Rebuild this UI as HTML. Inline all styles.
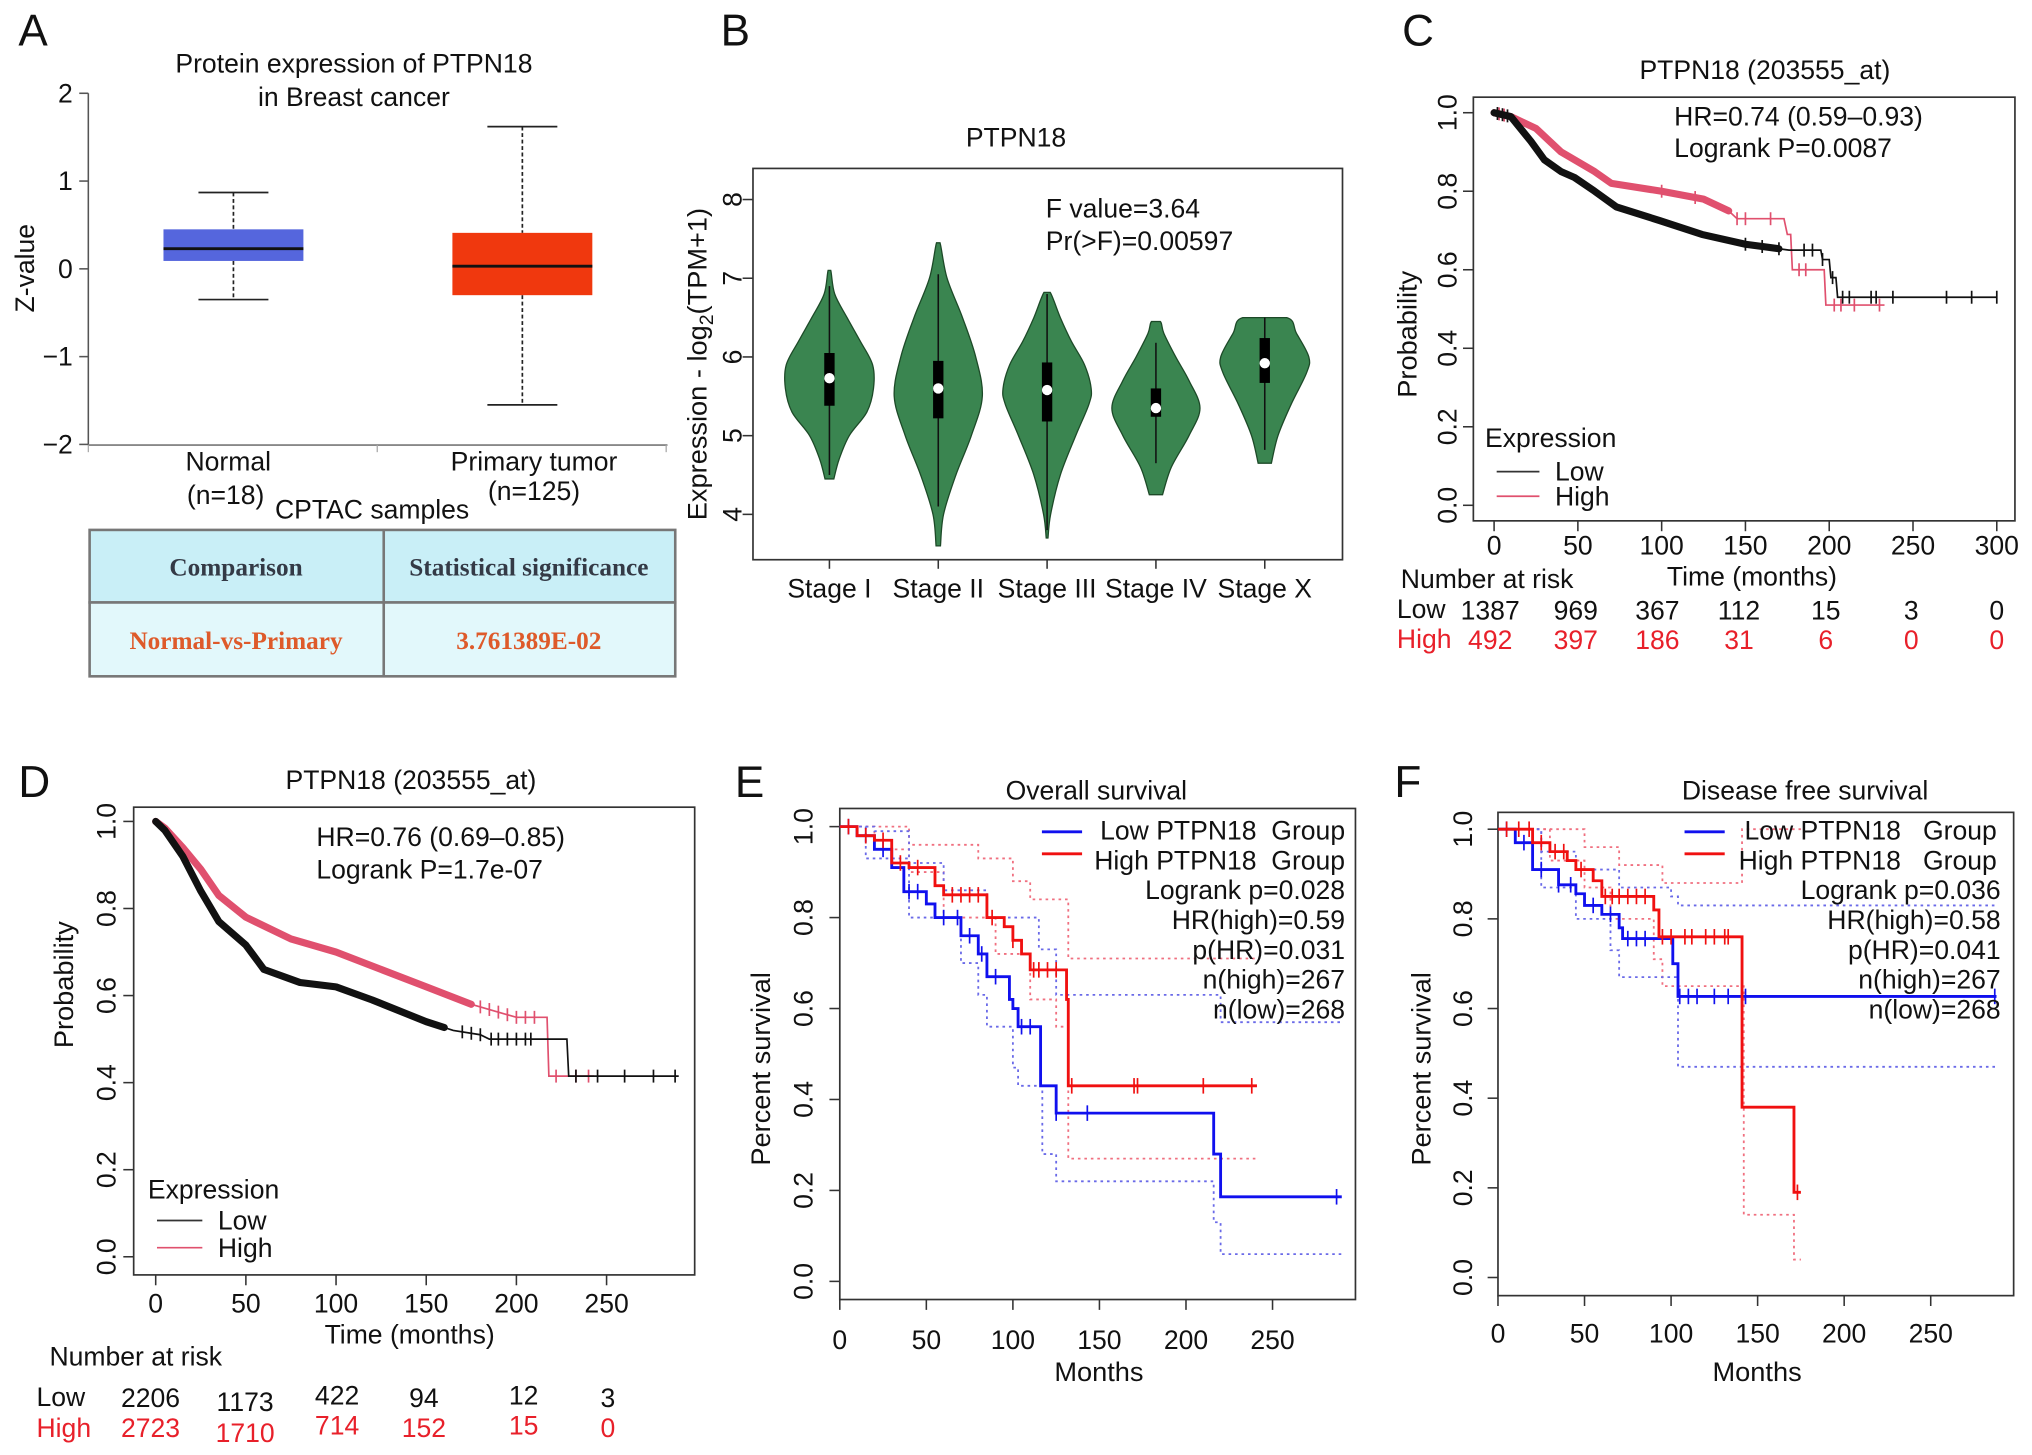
<!DOCTYPE html>
<html><head><meta charset="utf-8"><style>
html,body{margin:0;padding:0;background:#fff;}
svg{display:block;}
text{font-family:"Liberation Sans",Arial,sans-serif;fill:#111;}
.serif{font-family:"Liberation Serif","DejaVu Serif",serif;font-weight:bold;}
</style></head><body>
<svg id="fig" width="2032" height="1455" viewBox="0 0 1568 1123" xmlns="http://www.w3.org/2000/svg">
<g id="A">
<text x="14" y="35" font-size="34">A</text>
<text x="273" y="56" font-size="20.5" text-anchor="middle">Protein expression of PTPN18</text>
<text x="273" y="82" font-size="20.5" text-anchor="middle">in Breast cancer</text>
<text transform="translate(26,207) rotate(-90)" font-size="20.5" text-anchor="middle">Z-value</text>
<text x="176" y="363" font-size="20.5" text-anchor="middle">Normal</text>
<text x="174" y="389" font-size="20.5" text-anchor="middle">(n=18)</text>
<text x="412" y="363" font-size="20.5" text-anchor="middle">Primary tumor</text>
<text x="412" y="386" font-size="20.5" text-anchor="middle">(n=125)</text>
<text x="287" y="400" font-size="20.5" text-anchor="middle">CPTAC samples</text>
<g>
<rect x="69" y="409" width="452" height="56" fill="#c9eff7" stroke="#777" stroke-width="2"/>
<rect x="69" y="465" width="452" height="57" fill="#e2f8fb" stroke="#777" stroke-width="2"/>
<line x1="296" y1="409" x2="296" y2="522" stroke="#777" stroke-width="2"/>
<text class="serif" x="182" y="444" font-size="19.5" text-anchor="middle" style="fill:#343a46">Comparison</text>
<text class="serif" x="408" y="444" font-size="19.5" text-anchor="middle" style="fill:#343a46">Statistical significance</text>
<text class="serif" x="182" y="501" font-size="19.5" text-anchor="middle" style="fill:#de5a2a">Normal-vs-Primary</text>
<text class="serif" x="408" y="501" font-size="19.5" text-anchor="middle" style="fill:#de5a2a">3.761389E-02</text>
</g>
</g>
<g id="B">
<text x="556" y="35" font-size="34">B</text>
<text x="784" y="113" font-size="20.5" text-anchor="middle">PTPN18</text>
<text x="807" y="168" font-size="20.5">F value=3.64</text>
<text x="807" y="193" font-size="20.5">Pr(&gt;F)=0.00597</text>
<text transform="translate(545,281) rotate(-90)" font-size="21" text-anchor="middle">Expression - log<tspan font-size="15" dy="5">2</tspan><tspan dy="-5">(TPM+1)</tspan></text>
</g>
<g id="C"><text x="1082" y="35" font-size="34">C</text></g>
<g id="D"><text x="14" y="615" font-size="34">D</text></g>
<g id="E"><text x="567" y="615" font-size="34">E</text></g>
<g id="F"><text x="1076" y="615" font-size="34">F</text></g>
</svg>
<script>
const NS="http://www.w3.org/2000/svg";
const FS=20.5;
function mk(p,tag,attrs,txt){const e=document.createElementNS(NS,tag);for(const k in attrs)e.setAttribute(k,attrs[k]);if(txt!==undefined)e.textContent=txt;p.appendChild(e);return e;}

/* ---------- Panel A data ---------- */
const boxGroups=["Normal","Primary tumor"];
const boxMin=[-0.35,-1.55];
const boxQ1=[0.09,-0.3];
const boxMed=[0.23,0.03];
const boxQ3=[0.45,0.41];
const boxMax=[0.87,1.62];
const boxColors=["#5566dd","#f0380e"];
const aTicks=[2,1,0,-1,-2];

/* ---------- Panel B data ---------- */
const stages=["Stage I","Stage II","Stage III","Stage IV","Stage X"];
const vioVals=[[4.45,4.7,5.0,5.3,5.6,5.9,6.2,6.5,6.8,7.1],[3.6,4.0,4.5,5.0,5.5,6.0,6.5,7.0,7.45],[3.7,4.0,4.5,5.0,5.4,5.6,5.9,6.2,6.5,6.82],[4.25,4.6,5.0,5.35,5.7,6.0,6.3,6.45],[4.65,5.0,5.4,5.8,6.0,6.3,6.5]];
const vioDens=[[0.1,0.22,0.45,0.85,1.0,0.98,0.7,0.4,0.12,0.03],[0.05,0.12,0.4,0.75,1.0,0.85,0.55,0.2,0.04],[0.02,0.08,0.3,0.65,0.95,1.0,0.85,0.55,0.3,0.07],[0.15,0.35,0.75,1.0,0.75,0.45,0.18,0.1],[0.15,0.3,0.6,0.95,1.0,0.72,0.5]];
const vioMed=[5.73,5.6,5.58,5.35,5.92];
const vioQ1=[5.38,5.22,5.18,5.24,5.67];
const vioQ3=[6.05,5.95,5.93,5.6,6.24];
const vioLo=[4.5,4.1,3.8,4.65,4.82];
const vioHi=[6.9,7.05,6.8,6.18,6.5];
const bTicks=[4,5,6,7,8];

/* ---------- Panel C data (dense curves, linear knots) ---------- */
const cLowT=[0,10,22,30,40,48,60,73,99,124,150,176,195,196,200,201,204,205,300];
const cLowS=[1,0.99,0.927,0.88,0.85,0.835,0.80,0.76,0.725,0.69,0.665,0.65,0.65,0.626,0.626,0.58,0.58,0.53,0.53];
const cHighT=[0,10,25,40,60,70,100,125,140,145,173,175,177,178,197,198,233];
const cHighS=[1,0.99,0.96,0.90,0.85,0.82,0.80,0.78,0.75,0.73,0.73,0.69,0.69,0.60,0.60,0.51,0.51];
const cLowCens=[2,5,8,150,160,170,185,190,196,202,208,212,225,228,238,270,285,300];
const cHighCens=[3,6,100,120,145,150,165,182,186,203,207,215,230];
const cRiskLow=[1387,969,367,112,15,3,0];
const cRiskHigh=[492,397,186,31,6,0,0];

/* ---------- Panel D data ---------- */
const dLowT=[0,5,15,25,35,50,60,80,100,120,150,165,180,185,228,229,290];
const dLowS=[1,0.98,0.92,0.84,0.77,0.716,0.66,0.63,0.62,0.59,0.54,0.52,0.51,0.50,0.50,0.415,0.415];
const dHighT=[0,5,15,25,35,50,75,100,125,150,175,200,217,218,243];
const dHighS=[1,0.985,0.94,0.89,0.83,0.78,0.73,0.70,0.66,0.62,0.58,0.55,0.55,0.415,0.415];
const dLowCens=[170,175,180,186,190,195,200,205,208,233,245,260,276,288];
const dHighCens=[180,185,190,195,200,205,210,222,233,240];
const dRiskLow=[2206,1173,422,94,12,3];
const dRiskHigh=[2723,1710,714,152,15,0];

/* ---------- Panel E data ---------- */
const eLowT=[0,10,20,30,37,50,55,70,80,85,98,100,103,116,125,216,220];
const eLowS=[1,0.98,0.95,0.91,0.857,0.83,0.80,0.76,0.72,0.67,0.62,0.60,0.56,0.43,0.37,0.28,0.186];
const eHighT=[0,10,20,30,40,55,60,85,95,100,105,110,131,132];
const eHighS=[1,0.98,0.97,0.92,0.91,0.87,0.85,0.80,0.78,0.75,0.72,0.685,0.62,0.43];
const eLowCens=[5,15,25,40,45,60,68,75,82,90,105,110,125,143,287];
const eHighCens=[5,15,25,35,45,65,70,75,80,88,100,112,115,120,125,134,170,172,210,238];
const eHighUpT=[0,20,40,80,100,110,132],eHighUpS=[1,1,0.96,0.93,0.88,0.84,0.71];
const eHighLoT=[0,20,40,60,90,110,125,132],eHighLoS=[1,0.95,0.9,0.8,0.72,0.62,0.56,0.27];
const eLowUpT=[0,20,40,60,85,115,125,220],eLowUpS=[1,0.99,0.92,0.86,0.80,0.73,0.63,0.57];
const eLowLoT=[0,15,40,70,80,85,100,103,117,125,216,220],eLowLoS=[1,0.93,0.80,0.70,0.63,0.56,0.47,0.43,0.28,0.22,0.13,0.06];

/* ---------- Panel F data ---------- */
const fLowT=[0,10,20,35,45,50,60,70,72,101,104];
const fLowS=[1,0.97,0.91,0.876,0.856,0.83,0.81,0.78,0.756,0.70,0.627];
const fHighT=[0,20,30,40,45,55,60,90,93,141,171];
const fHighS=[1,0.97,0.95,0.93,0.91,0.885,0.85,0.82,0.76,0.38,0.19];
const fLowCens=[5,15,25,35,42,55,65,75,80,85,105,110,115,125,133,143,287];
const fHighCens=[5,12,18,25,33,38,48,62,66,70,75,80,85,95,100,108,112,120,125,131,133,173];
const fHighUpT=[0,40,50,70,95,141],fHighUpS=[1,1,0.96,0.92,0.88,1.0];
const fHighLoT=[0,30,50,65,90,95,142,171],fHighLoS=[1,0.93,0.87,0.80,0.71,0.65,0.14,0.04];
const fLowUpT=[0,25,45,70,100,104],fLowUpS=[1,0.95,0.91,0.87,0.85,0.83];
const fLowLoT=[0,25,45,65,70,104],fLowLoS=[1,0.87,0.80,0.73,0.67,0.47];

/* ================= Draw A ================= */
(function(){
const g=document.getElementById('A');
const y=v=>207.5-v*67.75;
const xc=[180,403];
mk(g,'line',{x1:68,y1:y(2),x2:68,y2:y(-2),stroke:'#555','stroke-width':1.2});
mk(g,'line',{x1:68,y1:343.5,x2:515,y2:343.5,stroke:'#777','stroke-width':1.2});
[68,291,514].forEach(x=>mk(g,'line',{x1:x,y1:343.5,x2:x,y2:349,stroke:'#aaa','stroke-width':1}));
aTicks.forEach(t=>{
  mk(g,'line',{x1:61,y1:y(t),x2:68,y2:y(t),stroke:'#555','stroke-width':1.2});
  const tx=mk(g,'text',{x:56,y:y(t)+7,'font-size':FS,'text-anchor':'end'},t<0?'\u2212'+(-t):String(t));
  
  
});
boxGroups.forEach((n,i)=>{
  const bg=mk(g,'g',{});
  
  
  const x=xc[i],hw=54,cw=27;
  mk(bg,'line',{x1:x,y1:y(boxMax[i]),x2:x,y2:y(boxQ3[i]),stroke:'#222','stroke-width':1.3,'stroke-dasharray':'3,2'});
  mk(bg,'line',{x1:x,y1:y(boxQ1[i]),x2:x,y2:y(boxMin[i]),stroke:'#222','stroke-width':1.3,'stroke-dasharray':'3,2'});
  mk(bg,'line',{x1:x-cw,y1:y(boxMax[i]),x2:x+cw,y2:y(boxMax[i]),stroke:'#222','stroke-width':1.3});
  mk(bg,'line',{x1:x-cw,y1:y(boxMin[i]),x2:x+cw,y2:y(boxMin[i]),stroke:'#222','stroke-width':1.3});
  mk(bg,'rect',{x:x-hw,y:y(boxQ3[i]),width:hw*2,height:y(boxQ1[i])-y(boxQ3[i]),fill:boxColors[i]});
  mk(bg,'line',{x1:x-hw,y1:y(boxMed[i]),x2:x+hw,y2:y(boxMed[i]),stroke:'#111','stroke-width':2.2});
});
})();

/* ================= Draw B ================= */
(function(){
const g=document.getElementById('B');
const L=581,R=1036,T=130,Bt=432;
const y=v=>154+(8-v)*60.75;
const xc=[640,724,808,892,976];
const maxHW=34;
mk(g,'rect',{x:L,y:T,width:R-L,height:Bt-T,fill:'none',stroke:'#333','stroke-width':1.3});
bTicks.forEach(t=>{
  mk(g,'line',{x1:L-8,y1:y(t),x2:L,y2:y(t),stroke:'#333','stroke-width':1.2});
  const tx=mk(g,'text',{transform:`translate(572,${y(t)}) rotate(-90)`,'font-size':FS,'text-anchor':'middle'},String(t));
  
  
});
stages.forEach((s,i)=>{
  const x=xc[i];
  mk(g,'line',{x1:x,y1:Bt,x2:x,y2:Bt+7,stroke:'#333','stroke-width':1.2});
  const tl=mk(g,'text',{x:x,y:461,'font-size':FS,'text-anchor':'middle'},s);
  
  
  const vg=mk(g,'g',{});
  
  
  const vs=vioVals[i],ds=vioDens[i];
  let right=vs.map((v,k)=>[x+ds[k]*maxHW,y(v)]);
  let left=vs.map((v,k)=>[x-ds[k]*maxHW,y(v)]).reverse();
  const P=right.concat(left);const n=P.length;
  let d=`M${P[0][0]},${P[0][1]}`;
  for(let k=0;k<n-1;k++){
    const p0=P[Math.max(k-1,0)],p1=P[k],p2=P[k+1],p3=P[Math.min(k+2,n-1)];
    const c1=[p1[0]+(p2[0]-p0[0])/6,p1[1]+(p2[1]-p0[1])/6];
    const c2=[p2[0]-(p3[0]-p1[0])/6,p2[1]-(p3[1]-p1[1])/6];
    if(k===right.length-1){d+=`L${p2[0]},${p2[1]}`;continue;}
    d+=`C${c1[0]},${c1[1]} ${c2[0]},${c2[1]} ${p2[0]},${p2[1]}`;
  }
  d+='Z';
  mk(vg,'path',{d:d,fill:'#3a8550',stroke:'#1d4a28','stroke-width':1});
  mk(vg,'line',{x1:x,y1:y(vioHi[i]),x2:x,y2:y(vioLo[i]),stroke:'#111','stroke-width':1.2});
  mk(vg,'rect',{x:x-4,y:y(vioQ3[i]),width:8,height:y(vioQ1[i])-y(vioQ3[i]),fill:'#000'});
  mk(vg,'circle',{cx:x,cy:y(vioMed[i]),r:4,fill:'#fff'});
});
})();

/* ============ KM helper ============ */
function stepPath(xs,ys,T,S,tEnd){
  let d=`M${xs(T[0])},${ys(S[0])}`;
  for(let k=1;k<T.length;k++){d+=`H${xs(T[k])}V${ys(S[k])}`;}
  d+=`H${xs(tEnd)}`;return d;
}
function linePath(xs,ys,T,S,tEnd){
  let d=`M${xs(T[0])},${ys(S[0])}`;
  for(let k=1;k<T.length;k++){if(T[k]>tEnd)break;d+=`L${xs(T[k])},${ys(S[k])}`;}
  const last=T.filter(t=>t<=tEnd).length-1;
  if(T[last]<tEnd)d+=`L${xs(tEnd)},${ys(linVal(T,S,tEnd))}`;
  return d;
}
function valAt(T,S,t){let v=S[0];for(let k=0;k<T.length;k++){if(T[k]<=t)v=S[k];}return v;}
function linVal(T,S,t){for(let k=1;k<T.length;k++){if(t<=T[k]){const f=(t-T[k-1])/((T[k]-T[k-1])||1);return S[k-1]+f*(S[k]-S[k-1]);}}return S[S.length-1];}
function kmAxes(g,o){
  mk(g,'rect',{x:o.L,y:o.T,width:o.R-o.L,height:o.B-o.T,fill:'none',stroke:'#333','stroke-width':1.3});
  o.yt.forEach(t=>{
    const yy=o.ys(t);
    mk(g,'line',{x1:o.L-8,y1:yy,x2:o.L,y2:yy,stroke:'#333','stroke-width':1.2});
    const tx=mk(g,'text',{transform:`translate(${o.ylx},${yy}) rotate(-90)`,'font-size':FS,'text-anchor':'middle'},t.toFixed(1));
    
    
  });
  o.xt.forEach(t=>{
    const xx=o.xs(t);
    mk(g,'line',{x1:xx,y1:o.B,x2:xx,y2:o.B+8,stroke:'#333','stroke-width':1.2});
    const tx=mk(g,'text',{x:xx,y:o.xly,'font-size':FS,'text-anchor':'middle'},String(t));
    
    
  });
}
function series(g,name,o,T,S,tEnd,cens,color,w,denseTo,tickH,linear){
  const sg=mk(g,'g',{});
  
  
  const pf=linear?linePath:stepPath;
  const vf=linear?linVal:valAt;
  mk(sg,'path',{d:pf(o.xs,o.ys,T,S,tEnd),fill:'none',stroke:color,'stroke-width':w});
  if(denseTo){
    mk(sg,'path',{d:linePath(o.xs,o.ys,T,S,denseTo),fill:'none',stroke:color,'stroke-width':5.5,'stroke-linejoin':'round','stroke-linecap':'round'});
  }
  cens.forEach(t=>{const xx=o.xs(t),yy=o.ys(vf(T,S,t));mk(sg,'line',{x1:xx,y1:yy-tickH,x2:xx,y2:yy+tickH,stroke:color,'stroke-width':1.3});});
}
function ci(g,name,o,T,S,tEnd,color){
  const p=mk(g,'path',{d:stepPath(o.xs,o.ys,T,S,tEnd),fill:'none',stroke:color,'stroke-width':1.4,'stroke-dasharray':'2,3'});
  
  
}
function txt(g,x,y,s,size,name,anchor,fill){
  const t=mk(g,'text',{x:x,y:y,'font-size':size,'text-anchor':anchor||'start'},s);
  if(fill)t.style.fill=fill;
  
  
  return t;
}
function rtxt(g,x,y,s,name){
  const t=mk(g,'text',{transform:`translate(${x},${y}) rotate(-90)`,'font-size':21,'text-anchor':'middle'},s);
  
  
}

/* ================= Draw C ================= */
(function(){
const g=document.getElementById('C');
const o={L:1137,R:1555,T:75,B:402,xs:t=>1153+t*1.2933,ys:s=>390-s*303,yt:[0,0.2,0.4,0.6,0.8,1.0],xt:[0,50,100,150,200,250,300],ylx:1124,xly:428};
kmAxes(g,o);
txt(g,1362,61,'PTPN18 (203555_at)',FS,'title-c','middle');
txt(g,1292,97,'HR=0.74 (0.59\u20130.93)',FS,'hr-text-c');
txt(g,1292,121,'Logrank P=0.0087',FS,'logrank-text-c');
rtxt(g,1093,258,'Probability','y-axis-title-c');
txt(g,1352,452,'Time (months)',FS,'x-axis-title-c','middle');
series(g,'curve-high-c',o,cHighT,cHighS,233,cHighCens,'#e0506e',1.3,140,5,true);
series(g,'curve-low-c',o,cLowT,cLowS,300,cLowCens,'#111',1.3,170,5,true);
txt(g,1146,345,'Expression',FS,'legend-title-c');
mk(g,'line',{x1:1155,y1:364,x2:1188,y2:364,stroke:'#333','stroke-width':1.3});
mk(g,'line',{x1:1155,y1:383,x2:1188,y2:383,stroke:'#e0506e','stroke-width':1.3});
txt(g,1200,371,'Low',FS,'legend-low-c');
txt(g,1200,390,'High',FS,'legend-high-c');
txt(g,1081,454,'Number at risk',FS,'risk-title-c');
txt(g,1078,477,'Low',FS,'risk-label-low-c');
txt(g,1078,500,'High',FS,'risk-label-high-c','start','#e8202a');
const rx=[1150,1216,1279,1342,1409,1475,1541];
cRiskLow.forEach((v,k)=>txt(g,rx[k],478,String(v),FS,'risk-low-value','middle'));
cRiskHigh.forEach((v,k)=>txt(g,rx[k],501,String(v),FS,'risk-high-value','middle','#e8202a'));
})();

/* ================= Draw D ================= */
(function(){
const g=document.getElementById('D');
const o={L:103,R:536,T:623,B:984,xs:t=>120+t*1.392,ys:s=>970-s*336,yt:[0,0.2,0.4,0.6,0.8,1.0],xt:[0,50,100,150,200,250],ylx:89,xly:1013};
kmAxes(g,o);
txt(g,317,609,'PTPN18 (203555_at)',FS,'title-d','middle');
txt(g,244,653,'HR=0.76 (0.69\u20130.85)',FS,'hr-text-d');
txt(g,244,678,'Logrank P=1.7e-07',FS,'logrank-text-d');
rtxt(g,56,760,'Probability','y-axis-title-d');
txt(g,316,1037,'Time (months)',FS,'x-axis-title-d','middle');
series(g,'curve-high-d',o,dHighT,dHighS,243,dHighCens,'#e0506e',1.3,175,5,true);
series(g,'curve-low-d',o,dLowT,dLowS,290,dLowCens,'#111',1.3,160,5,true);
txt(g,114,925,'Expression',FS,'legend-title-d');
mk(g,'line',{x1:121,y1:942,x2:156,y2:942,stroke:'#333','stroke-width':1.3});
mk(g,'line',{x1:121,y1:963,x2:156,y2:963,stroke:'#e0506e','stroke-width':1.3});
txt(g,168,949,'Low',FS,'legend-low-d');
txt(g,168,970,'High',FS,'legend-high-d');
txt(g,38,1054,'Number at risk',FS,'risk-title-d');
txt(g,28,1085,'Low',FS,'risk-label-low-d');
txt(g,28,1109,'High',FS,'risk-label-high-d','start','#e8202a');
const rx=[116,189,260,327,404,469];
const dyL=[1,4,-1,1,-1,1],dyH=[0,4,-2,0,-2,0];
dRiskLow.forEach((v,k)=>txt(g,rx[k],1085+dyL[k],String(v),FS,'risk-low-value','middle'));
dRiskHigh.forEach((v,k)=>txt(g,rx[k],1109+dyH[k],String(v),FS,'risk-high-value','middle','#e8202a'));
})();

/* ================= Draw E / F ================= */
function gepia(id,o,title,tx,stats,statX,legX,d){
  const g=document.getElementById(id);
  kmAxes(g,o);
  txt(g,tx,617,title,FS,'title-'+id.toLowerCase(),'middle');
  rtxt(g,o.ptx,825,'Percent survival','y-axis-title-'+id.toLowerCase());
  txt(g,o.mx,1066,'Months',21,'x-axis-title-'+id.toLowerCase(),'middle');
  ci(g,'ci-high-upper',o,d.hut,d.hus,d.hEnd,'#f07080');
  ci(g,'ci-high-lower',o,d.hlt,d.hls,d.hEnd,'#f07080');
  ci(g,'ci-low-upper',o,d.lut,d.lus,d.lEnd,'#6a6ae8');
  ci(g,'ci-low-lower',o,d.llt,d.lls,d.lEnd,'#6a6ae8');
  series(g,'curve-low-'+id.toLowerCase(),o,d.lt,d.ls,d.lEnd,d.lc,'#1010ee',2.2,0,6,false);
  series(g,'curve-high-'+id.toLowerCase(),o,d.ht,d.hs,d.hEnd,d.hc,'#f01010',2.2,0,6,false);
  mk(g,'line',{x1:legX[0],y1:642,x2:legX[1],y2:642,stroke:'#1010ee','stroke-width':2.2});
  mk(g,'line',{x1:legX[0],y1:659,x2:legX[1],y2:659,stroke:'#f01010','stroke-width':2.2});
  txt(g,statX,648,d.lowLab,FS,'legend-low-'+id.toLowerCase(),'end');
  txt(g,statX,671,d.highLab,FS,'legend-high-'+id.toLowerCase(),'end');
  stats.forEach((s,k)=>txt(g,statX+(d.sdx||0),694+k*23,s,FS,'stat-text','end'));
}
gepia('E',{L:648,R:1046,T:624,B:1003,xs:t=>648+t*1.336,ys:s=>989-s*351,yt:[0,0.2,0.4,0.6,0.8,1.0],xt:[0,50,100,150,200,250],ylx:627,xly:1041,ptx:594,mx:848},
 'Overall survival',846,['Logrank p=0.028','HR(high)=0.59','p(HR)=0.031','n(high)=267','n(low)=268'],1038,[804,835],
 {lt:eLowT,ls:eLowS,lEnd:290,lc:eLowCens,ht:eHighT,hs:eHighS,hEnd:241,hc:eHighCens,
  hut:eHighUpT,hus:eHighUpS,hlt:eHighLoT,hls:eHighLoS,lut:eLowUpT,lus:eLowUpS,llt:eLowLoT,lls:eLowLoS,
  lowLab:'Low PTPN18\u00a0 Group',highLab:'High PTPN18\u00a0 Group'});
gepia('F',{L:1156,R:1554,T:627,B:1000,xs:t=>1156+t*1.336,ys:s=>986-s*346,yt:[0,0.2,0.4,0.6,0.8,1.0],xt:[0,50,100,150,200,250],ylx:1136,xly:1036,ptx:1104,mx:1356},
 'Disease free survival',1393,['Logrank p=0.036','HR(high)=0.58','p(HR)=0.041','n(high)=267','n(low)=268'],1541,[1300,1331],
 {lt:fLowT,ls:fLowS,lEnd:288,lc:fLowCens,ht:fHighT,hs:fHighS,hEnd:175,hc:fHighCens,
  hut:fHighUpT,hus:fHighUpS,hlt:fHighLoT,hls:fHighLoS,lut:fLowUpT,lus:fLowUpS,llt:fLowLoT,lls:fLowLoS,
  lowLab:'Low PTPN18\u00a0\u00a0 Group',highLab:'High PTPN18\u00a0\u00a0 Group',sdx:3});
</script>
</body></html>
